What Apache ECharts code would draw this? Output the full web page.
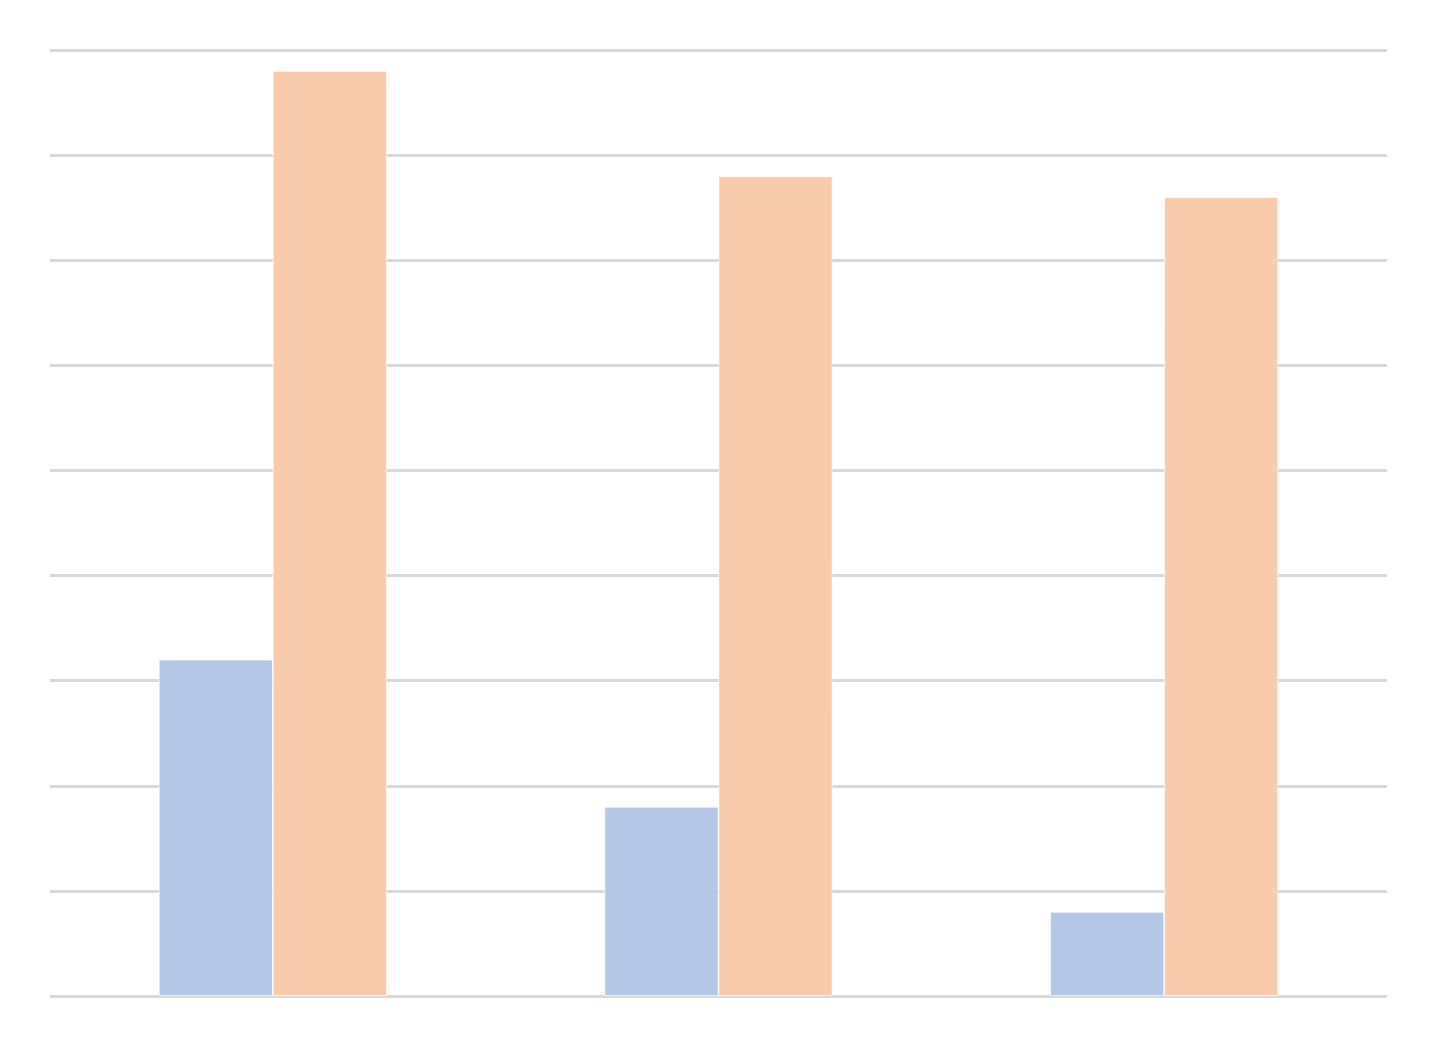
<!DOCTYPE html>
<html>
<head>
<meta charset="utf-8">
<script src="https://cdn.jsdelivr.net/npm/echarts@6/dist/echarts.min.js"></script>
<style>html,body{margin:0;padding:0;background:#fff;}#c{width:1437px;height:1047px;}</style>
</head>
<body>
<div id="c"></div>
<script>
const categories = ['A', 'B', 'C'];
const series1 = [3.2, 1.8, 0.8];
const series2 = [8.8, 7.8, 7.6];
const yTicks = {min: 0, max: 9, interval: 1};

const chart = echarts.init(document.getElementById('c'), null, {renderer: 'canvas'});
chart.setOption({
  animation: false,
  backgroundColor: '#ffffff',
  grid: {left: 50, right: 50, top: 50, bottom: 51, containLabel: false},
  xAxis: {
    type: 'category', data: categories,
    axisLine: {show: false}, axisTick: {show: false}, axisLabel: {show: false}, splitLine: {show: false}
  },
  yAxis: {
    type: 'value', min: yTicks.min, max: yTicks.max, interval: yTicks.interval,
    axisLine: {show: false}, axisTick: {show: false}, axisLabel: {show: false},
    splitLine: {show: true, lineStyle: {color: '#d9d9d9', width: 3}}
  },
  series: [
    {type: 'bar', data: series1, barWidth: 114, barGap: '0%',
     itemStyle: {color: '#b4c7e7', borderColor: '#ffffff', borderWidth: 0.7}},
    {type: 'bar', data: series2, barWidth: 114, barGap: '0%',
     itemStyle: {color: '#f8cbad', borderColor: '#ffffff', borderWidth: 0.7}}
  ]
});
</script>
</body>
</html>
